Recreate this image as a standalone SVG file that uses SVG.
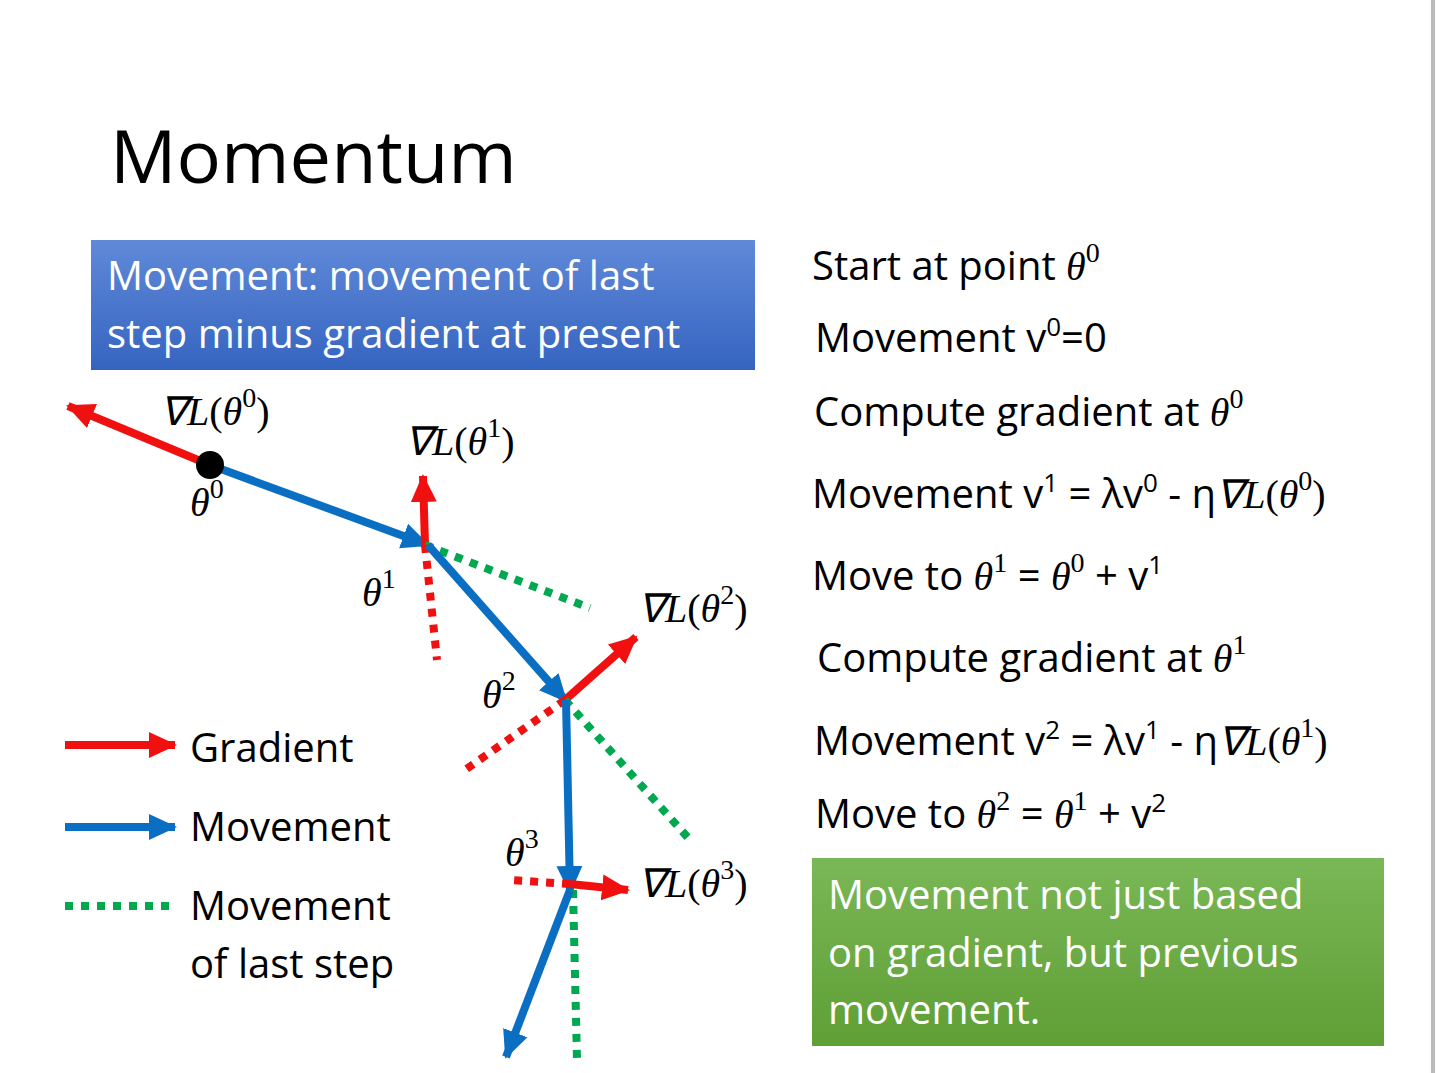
<svg xmlns="http://www.w3.org/2000/svg" width="1436" height="1073" viewBox="0 0 1436 1073">
<style>
.t{font-family:"Open Sans","Liberation Sans",sans-serif;font-size:40px;fill:#000}
.w{fill:#fff}
.m{font-family:"Liberation Serif",serif;font-style:italic}
.n{font-family:"Liberation Serif",serif}
.r{stroke:#f01010;stroke-width:8;fill:none}
.b{stroke:#0a6fc2;stroke-width:8;fill:none}
.g{stroke:#00a84f;stroke-width:8;stroke-dasharray:8 8;fill:none}
.rd{stroke:#f01010;stroke-width:8;stroke-dasharray:8 8;fill:none}
</style>
<defs>
<marker id="ar" markerUnits="userSpaceOnUse" markerWidth="30" markerHeight="30" refX="26" refY="15" orient="auto"><path d="M0,2 L28,15 L0,28 Z" fill="#f01010"/></marker>
<marker id="ab" markerUnits="userSpaceOnUse" markerWidth="30" markerHeight="30" refX="26" refY="15" orient="auto"><path d="M0,2 L28,15 L0,28 Z" fill="#0a6fc2"/></marker>
<linearGradient id="gb" x1="0" y1="0" x2="0" y2="1"><stop offset="0" stop-color="#6089d8"/><stop offset="1" stop-color="#3564c0"/></linearGradient>
<linearGradient id="gg" x1="0" y1="0" x2="0" y2="1"><stop offset="0" stop-color="#7ab756"/><stop offset="1" stop-color="#5f9f35"/></linearGradient>
</defs>
<rect width="1436" height="1073" fill="#fff"/>
<line x1="1433" y1="0" x2="1433" y2="1073" stroke="#bbb" stroke-width="4"/>
<text x="110" y="183" style="font-family:'Open Sans','Liberation Sans',sans-serif;font-size:74px">Momentum</text>
<g id="box1"><rect x="91" y="240" width="664" height="130" fill="url(#gb)"/>
<text class="t w" x="107" y="290">Movement: movement of last</text>
<text class="t w" x="107" y="348">step minus gradient at present</text></g>
<g id="box2"><rect x="812" y="858" width="572" height="188" fill="url(#gg)"/>
<text class="t w" x="828" y="909">Movement not just based</text>
<text class="t w" x="828" y="967">on gradient, but previous</text>
<text class="t w" x="828" y="1024">movement.</text></g>
<g id="steps">
<text class="t" x="812" y="280">Start at point <tspan class="m">θ</tspan><tspan class="n" font-size="28" dy="-18">0</tspan></text>
<text class="t" x="815" y="352">Movement v<tspan font-size="26" dy="-16">0</tspan><tspan dy="16">=0</tspan></text>
<text class="t" x="814" y="426">Compute gradient at <tspan class="m">θ</tspan><tspan class="n" font-size="28" dy="-18">0</tspan></text>
<text class="t" x="812" y="508">Movement v<tspan font-size="26" dy="-16">1</tspan><tspan dy="16"> = λv</tspan><tspan font-size="26" dy="-16">0</tspan><tspan dy="16"> - η</tspan><tspan class="m">∇L</tspan><tspan class="n">(</tspan><tspan class="m">θ</tspan><tspan class="n" font-size="28" dy="-18">0</tspan><tspan class="n" dy="18">)</tspan></text>
<text class="t" x="812" y="590">Move to <tspan class="m">θ</tspan><tspan class="n" font-size="28" dy="-18">1</tspan><tspan dy="18"> = </tspan><tspan class="m">θ</tspan><tspan class="n" font-size="28" dy="-18">0</tspan><tspan dy="18"> + v</tspan><tspan font-size="26" dy="-16">1</tspan></text>
<text class="t" x="817" y="672">Compute gradient at <tspan class="m">θ</tspan><tspan class="n" font-size="28" dy="-18">1</tspan></text>
<text class="t" x="814" y="755">Movement v<tspan font-size="26" dy="-16">2</tspan><tspan dy="16"> = λv</tspan><tspan font-size="26" dy="-16">1</tspan><tspan dy="16"> - η</tspan><tspan class="m">∇L</tspan><tspan class="n">(</tspan><tspan class="m">θ</tspan><tspan class="n" font-size="28" dy="-18">1</tspan><tspan class="n" dy="18">)</tspan></text>
<text class="t" x="815" y="828">Move to <tspan class="m">θ</tspan><tspan class="n" font-size="28" dy="-18">2</tspan><tspan dy="18"> = </tspan><tspan class="m">θ</tspan><tspan class="n" font-size="28" dy="-18">1</tspan><tspan dy="18"> + v</tspan><tspan font-size="26" dy="-16">2</tspan></text>
</g>
<g id="connectors">
<line class="r" x1="210" y1="465" x2="68" y2="406" marker-end="url(#ar)"/>
<line class="b" x1="210" y1="465" x2="428" y2="545" marker-end="url(#ab)"/>
<line class="r" x1="425" y1="545" x2="423" y2="476" marker-end="url(#ar)"/>
<line class="g" x1="425" y1="545" x2="590" y2="608"/>
<line class="rd" x1="425" y1="545" x2="437" y2="660"/>
<line class="b" x1="428" y1="545" x2="566" y2="701" marker-end="url(#ab)"/>
<line class="r" x1="565" y1="700" x2="636" y2="637" marker-end="url(#ar)"/>
<line class="rd" x1="565" y1="700" x2="465" y2="770"/>
<line class="g" x1="565" y1="700" x2="690" y2="840"/>
<line class="b" x1="566" y1="700" x2="570" y2="892" marker-end="url(#ab)"/>
<line class="r" x1="570" y1="884" x2="628" y2="890" marker-end="url(#ar)"/>
<line class="rd" x1="570" y1="884" x2="510" y2="880"/>
<line class="g" x1="573" y1="890" x2="577" y2="1060"/>
<line class="b" x1="570" y1="890" x2="506" y2="1057" marker-end="url(#ab)"/>
<line class="r" x1="65" y1="745" x2="175" y2="745" marker-end="url(#ar)"/>
<line class="b" x1="65" y1="827" x2="175" y2="827" marker-end="url(#ab)"/>
<line class="g" x1="65" y1="906" x2="175" y2="906"/>
</g>
<g id="theta0"><circle cx="210" cy="465" r="14" fill="#000"/></g>
<g id="labels">
<text class="t" x="160" y="425"><tspan class="m">∇L</tspan><tspan class="n">(</tspan><tspan class="m">θ</tspan><tspan class="n" font-size="28" dy="-18">0</tspan><tspan class="n" dy="18">)</tspan></text>
<text class="t" x="190" y="516"><tspan class="m">θ</tspan><tspan class="n" font-size="28" dy="-18">0</tspan></text>
<text class="t" x="405" y="455"><tspan class="m">∇L</tspan><tspan class="n">(</tspan><tspan class="m">θ</tspan><tspan class="n" font-size="28" dy="-18">1</tspan><tspan class="n" dy="18">)</tspan></text>
<text class="t" x="362" y="606"><tspan class="m">θ</tspan><tspan class="n" font-size="28" dy="-18">1</tspan></text>
<text class="t" x="638" y="622"><tspan class="m">∇L</tspan><tspan class="n">(</tspan><tspan class="m">θ</tspan><tspan class="n" font-size="28" dy="-18">2</tspan><tspan class="n" dy="18">)</tspan></text>
<text class="t" x="482" y="708"><tspan class="m">θ</tspan><tspan class="n" font-size="28" dy="-18">2</tspan></text>
<text class="t" x="505" y="866"><tspan class="m">θ</tspan><tspan class="n" font-size="28" dy="-18">3</tspan></text>
<text class="t" x="638" y="897"><tspan class="m">∇L</tspan><tspan class="n">(</tspan><tspan class="m">θ</tspan><tspan class="n" font-size="28" dy="-18">3</tspan><tspan class="n" dy="18">)</tspan></text>
<text class="t" x="190" y="762">Gradient</text>
<text class="t" x="190" y="841">Movement</text>
<text class="t" x="190" y="920">Movement</text>
<text class="t" x="190" y="978">of last step</text>
</g>
</svg>
